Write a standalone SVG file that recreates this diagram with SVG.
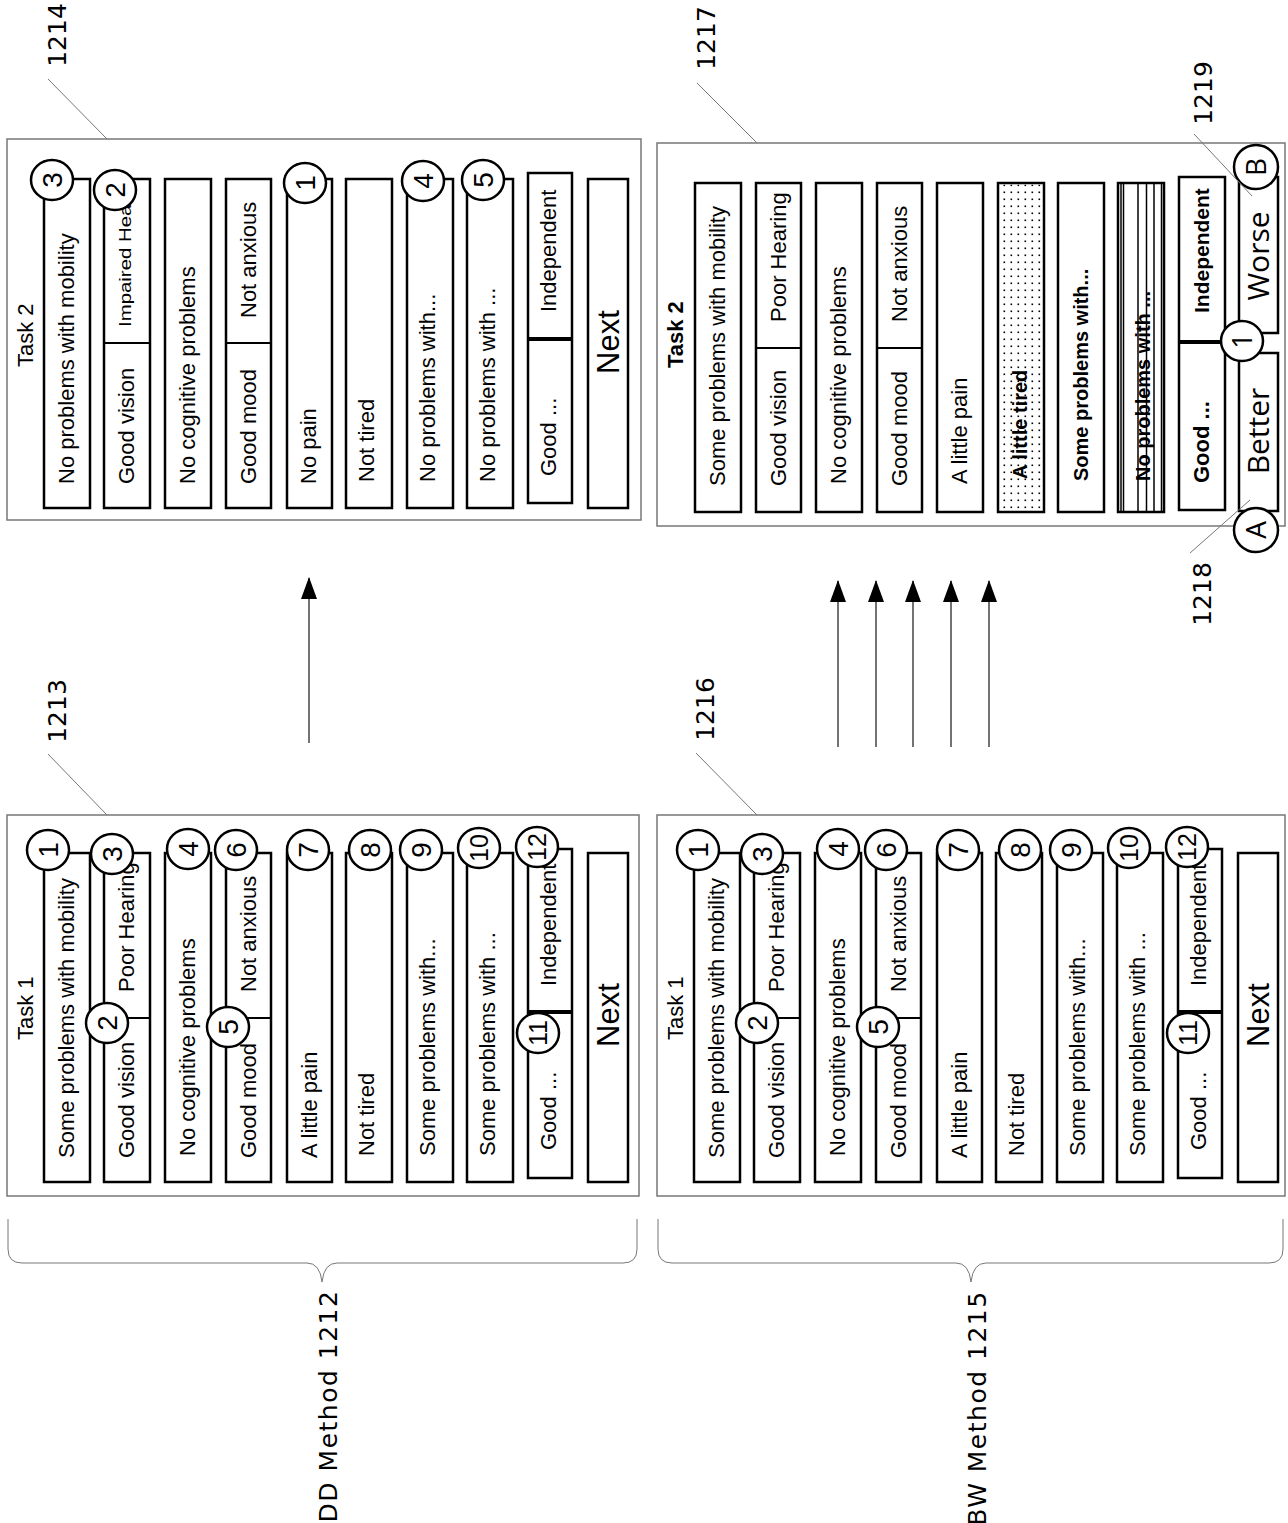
<svg xmlns="http://www.w3.org/2000/svg" width="1288" height="1523" viewBox="0 0 1288 1523">
<style>
.panel{fill:#fff;stroke:#777;stroke-width:1.5}
.bar{fill:#fff;stroke:#000;stroke-width:2.5}
.dv{stroke:#000;stroke-width:2}
.dvt{stroke:#000;stroke-width:4}
.c{fill:#fff;stroke:#000;stroke-width:2.5}
.t{font-family:"Liberation Sans",Arial,sans-serif;font-size:22px;fill:#000}
.b{font-weight:bold;font-size:20px}
.nx{font-family:"Liberation Sans",Arial,sans-serif;font-size:31px;text-anchor:middle}
.n{font-family:"Liberation Sans",Arial,sans-serif;font-size:28px;text-anchor:middle}
.n2{font-size:25px}
.o{font-family:"Open Sans","DejaVu Sans",sans-serif;text-anchor:middle}
.lbl{font-family:"DejaVu Sans",sans-serif;font-size:25px;text-anchor:middle;fill:#000}
.lead{stroke:#777;stroke-width:1;fill:none}
.arr{stroke:#444;stroke-width:1.5;fill:none;marker-end:url(#ah)}
.stripe{stroke:#000;stroke-width:1.5}
</style>
<defs>
<marker id="ah" markerUnits="userSpaceOnUse" markerWidth="22" markerHeight="16" refX="21" refY="8" orient="auto">
<path d="M0,0 L22,8 L0,16 z" fill="#000"/>
</marker>
<pattern id="dots" width="7" height="7" patternUnits="userSpaceOnUse">
<rect x="2.5" y="2.5" width="1.6" height="1.6" fill="#000"/>
</pattern>
</defs>
<rect width="1288" height="1523" fill="#fff"/>

<!-- DD Task 1 -->
<g id="dd-task1">
<rect class="panel" x="7" y="815" width="632" height="381"/>
<g id="dd-task1-content">
<text class="t" transform="translate(33,1040) rotate(-90)">Task 1</text>
<rect class="bar" x="44" y="853" width="46" height="329"/>
<rect class="bar" x="104" y="853" width="46" height="329"/>
<line class="dv" x1="104" y1="1018" x2="150" y2="1018"/>
<rect class="bar" x="165" y="853" width="46" height="329"/>
<rect class="bar" x="226" y="853" width="45" height="329"/>
<line class="dv" x1="226" y1="1018" x2="271" y2="1018"/>
<rect class="bar" x="287" y="853" width="45" height="329"/>
<rect class="bar" x="346" y="853" width="46" height="329"/>
<rect class="bar" x="407" y="853" width="46" height="329"/>
<rect class="bar" x="467" y="853" width="46" height="329"/>
<rect class="bar" x="528" y="849" width="44" height="329"/>
<line class="dvt" x1="528" y1="1012" x2="572" y2="1012"/>
<rect class="bar" x="588" y="853" width="40" height="329"/>
<text class="t" transform="translate(74,1158) rotate(-90)">Some problems with mobility</text>
<text class="t" transform="translate(134,1158) rotate(-90)">Good vision</text>
<text class="t" transform="translate(134,992) rotate(-90)">Poor Hearing</text>
<text class="t" transform="translate(195,1156) rotate(-90)">No cognitive problems</text>
<text class="t" transform="translate(256,1158) rotate(-90)">Good mood</text>
<text class="t" transform="translate(256,992) rotate(-90)">Not anxious</text>
<text class="t" transform="translate(317,1158) rotate(-90)">A little pain</text>
<text class="t" transform="translate(374,1156) rotate(-90)">Not tired</text>
<text class="t" transform="translate(435,1156) rotate(-90)">Some problems with...</text>
<text class="t" transform="translate(495,1156) rotate(-90)">Some problems with ...</text>
<text class="t" transform="translate(556,1150) rotate(-90)">Good ...</text>
<text class="t" transform="translate(556,986) rotate(-90)">Independent</text>
<text class="nx" transform="translate(619,1015) rotate(-90)">Next</text>
<ellipse class="c" cx="48" cy="850" rx="21" ry="20"/><text class="n" transform="translate(58,850) rotate(-90)">1</text>
<ellipse class="c" cx="112" cy="854" rx="21" ry="20"/><text class="n" transform="translate(122,854) rotate(-90)">3</text>
<ellipse class="c" cx="107" cy="1023" rx="21" ry="20"/><text class="n" transform="translate(117,1023) rotate(-90)">2</text>
<ellipse class="c" cx="188" cy="849" rx="21" ry="20"/><text class="n" transform="translate(198,849) rotate(-90)">4</text>
<ellipse class="c" cx="236" cy="850" rx="21" ry="20"/><text class="n" transform="translate(246,850) rotate(-90)">6</text>
<ellipse class="c" cx="228" cy="1027" rx="21" ry="20"/><text class="n" transform="translate(238,1027) rotate(-90)">5</text>
<ellipse class="c" cx="308" cy="850" rx="21" ry="20"/><text class="n" transform="translate(318,850) rotate(-90)">7</text>
<ellipse class="c" cx="370" cy="850" rx="21" ry="20"/><text class="n" transform="translate(380,850) rotate(-90)">8</text>
<ellipse class="c" cx="421" cy="850" rx="21" ry="20"/><text class="n" transform="translate(431,850) rotate(-90)">9</text>
<ellipse class="c" cx="479" cy="848" rx="21" ry="20"/><text class="n n2" transform="translate(488,848) rotate(-90)">10</text>
<ellipse class="c" cx="537" cy="847" rx="21" ry="20"/><text class="n n2" transform="translate(546,847) rotate(-90)">12</text>
<ellipse class="c" cx="538" cy="1033" rx="21" ry="20"/><text class="n n2" transform="translate(547,1033) rotate(-90)">11</text>
</g>
</g>

<!-- BW Task 1 -->
<g id="bw-task1">
<rect class="panel" x="657" y="815" width="628" height="381"/>
<use href="#dd-task1-content" transform="translate(650,0)"/>
</g>

<!-- DD Task 2 -->
<g id="dd-task2">
<rect class="panel" x="7" y="139" width="634" height="381"/>
<text class="t" transform="translate(33,367) rotate(-90)">Task 2</text>
<rect class="bar" x="44" y="179" width="46" height="329"/>
<rect class="bar" x="104" y="179" width="46" height="329"/>
<line class="dv" x1="104" y1="343" x2="150" y2="343"/>
<rect class="bar" x="165" y="179" width="46" height="329"/>
<rect class="bar" x="226" y="179" width="45" height="329"/>
<line class="dv" x1="226" y1="343" x2="271" y2="343"/>
<rect class="bar" x="287" y="179" width="45" height="329"/>
<rect class="bar" x="346" y="179" width="46" height="329"/>
<rect class="bar" x="407" y="179" width="46" height="329"/>
<rect class="bar" x="467" y="179" width="46" height="329"/>
<rect class="bar" x="528" y="173" width="44" height="330"/>
<line class="dvt" x1="528" y1="339" x2="572" y2="339"/>
<rect class="bar" x="588" y="179" width="40" height="329"/>
<text class="t" transform="translate(74,484) rotate(-90)">No problems with mobility</text>
<text class="t" transform="translate(134,484) rotate(-90)">Good vision</text>
<text class="t" style="font-size:17px" transform="translate(131,327) rotate(-90) scale(1.2,1)">Impaired Hear</text>
<text class="t" transform="translate(195,484) rotate(-90)">No cognitive problems</text>
<text class="t" transform="translate(256,484) rotate(-90)">Good mood</text>
<text class="t" transform="translate(256,318) rotate(-90)">Not anxious</text>
<text class="t" transform="translate(316,484) rotate(-90)">No pain</text>
<text class="t" transform="translate(374,482) rotate(-90)">Not tired</text>
<text class="t" transform="translate(435,482) rotate(-90)">No problems with...</text>
<text class="t" transform="translate(495,482) rotate(-90)">No problems with ...</text>
<text class="t" transform="translate(556,476) rotate(-90)">Good ...</text>
<text class="t" transform="translate(556,312) rotate(-90)">Independent</text>
<text class="nx" transform="translate(619,342) rotate(-90)">Next</text>
<ellipse class="c" cx="52" cy="180" rx="21" ry="20"/><text class="n" transform="translate(62,180) rotate(-90)">3</text>
<ellipse class="c" cx="115" cy="190" rx="21" ry="20"/><text class="n" transform="translate(125,190) rotate(-90)">2</text>
<ellipse class="c" cx="305" cy="183" rx="21" ry="20"/><text class="n" transform="translate(315,183) rotate(-90)">1</text>
<ellipse class="c" cx="423" cy="181" rx="21" ry="20"/><text class="n" transform="translate(433,181) rotate(-90)">4</text>
<ellipse class="c" cx="483" cy="180" rx="21" ry="20"/><text class="n" transform="translate(493,180) rotate(-90)">5</text>
</g>

<!-- BW Task 2 -->
<g id="bw-task2">
<rect class="panel" x="657" y="143" width="628" height="383"/>
<text class="t" style="font-weight:bold" transform="translate(683,368) rotate(-90)">Task 2</text>
<rect class="bar" x="695" y="183" width="46" height="329"/>
<rect class="bar" x="756" y="183" width="45" height="329"/>
<line class="dv" x1="756" y1="348" x2="801" y2="348"/>
<rect class="bar" x="816" y="183" width="46" height="329"/>
<rect class="bar" x="877" y="183" width="45" height="329"/>
<line class="dv" x1="877" y1="348" x2="922" y2="348"/>
<rect class="bar" x="937" y="183" width="46" height="329"/>
<rect class="bar" x="998" y="183" width="46" height="329"/>
<rect class="bar" x="1058" y="183" width="46" height="329"/>
<rect class="bar" x="1118" y="183" width="46" height="329"/>
<rect class="bar" x="1179" y="177" width="46" height="333"/>
<line class="dvt" x1="1179" y1="342" x2="1225" y2="342"/>
<text class="t" transform="translate(725,486) rotate(-90)">Some problems with mobility</text>
<text class="t" transform="translate(786,486) rotate(-90)">Good vision</text>
<text class="t" transform="translate(786,322) rotate(-90)">Poor Hearing</text>
<text class="t" transform="translate(846,484) rotate(-90)">No cognitive problems</text>
<text class="t" transform="translate(907,486) rotate(-90)">Good mood</text>
<text class="t" transform="translate(907,322) rotate(-90)">Not anxious</text>
<text class="t" transform="translate(967,484) rotate(-90)">A little pain</text>
<text class="t b" transform="translate(1027,479) rotate(-90)">A little tired</text>
<rect x="999.5" y="184.5" width="43" height="326" fill="url(#dots)"/>
<text class="t b" transform="translate(1088,481) rotate(-90)">Some problems with...</text>
<text class="t b" transform="translate(1150,481) rotate(-90)">No problems with ...</text>
<line class="stripe" x1="1121" y1="183" x2="1121" y2="512"/>
<line class="stripe" x1="1123.5" y1="183" x2="1123.5" y2="512"/>
<line class="stripe" x1="1138" y1="183" x2="1138" y2="512"/>
<line class="stripe" x1="1146.5" y1="183" x2="1146.5" y2="512"/>
<line class="stripe" x1="1154" y1="183" x2="1154" y2="512"/>
<line class="stripe" x1="1161.5" y1="183" x2="1161.5" y2="512"/>
<text class="t" style="font-weight:bold" transform="translate(1209,483) rotate(-90)">Good ...</text>
<text class="t" style="font-weight:bold;font-size:21px" transform="translate(1209,313) rotate(-90)">Independent</text>
<rect class="bar" x="1239" y="353" width="39" height="158"/>
<rect class="bar" x="1239" y="177" width="39" height="156"/>
<text class="o" style="font-size:30px" transform="translate(1269,431) rotate(-90)">Better</text>
<text class="o" style="font-size:30px" transform="translate(1269,256) rotate(-90)">Worse</text>
<ellipse class="c" cx="1242" cy="341" rx="21" ry="20"/><text class="o" style="font-size:27px" transform="translate(1252,341) rotate(-90)">1</text>
<circle class="c" cx="1256" cy="167" r="22"/><text class="o" style="font-size:28px" transform="translate(1266,167) rotate(-90)">B</text>
<circle class="c" cx="1256" cy="530" r="22"/><text class="o" style="font-size:28px" transform="translate(1266,530) rotate(-90)">A</text>
</g>

<!-- connectors -->
<g id="connectors">
<line class="arr" x1="309" y1="743" x2="309" y2="578"/>
<line class="arr" x1="838" y1="747" x2="838" y2="581"/>
<line class="arr" x1="876" y1="747" x2="876" y2="581"/>
<line class="arr" x1="913" y1="747" x2="913" y2="581"/>
<line class="arr" x1="951" y1="747" x2="951" y2="581"/>
<line class="arr" x1="989" y1="747" x2="989" y2="581"/>
</g>

<!-- reference labels -->
<g id="labels">
<line class="lead" x1="48" y1="79" x2="107" y2="139"/>
<text class="lbl" transform="translate(66,35) rotate(-90)">1214</text>
<line class="lead" x1="697" y1="83" x2="757" y2="143"/>
<text class="lbl" transform="translate(715,38) rotate(-90)">1217</text>
<line class="lead" x1="48" y1="754" x2="107" y2="815"/>
<text class="lbl" transform="translate(66,711) rotate(-90)">1213</text>
<line class="lead" x1="696" y1="753" x2="757" y2="815"/>
<text class="lbl" transform="translate(714,709) rotate(-90)">1216</text>
<line class="lead" x1="1194" y1="134" x2="1252" y2="196"/>
<text class="lbl" transform="translate(1212,93) rotate(-90)">1219</text>
<line class="lead" x1="1190" y1="553" x2="1250" y2="500"/>
<text class="lbl" transform="translate(1211,594) rotate(-90)">1218</text>
</g>

<!-- braces -->
<g id="dd-method">
<path class="lead" d="M8,1219 V1249 Q8,1263 22,1263 H307 Q320,1263 322,1282 Q324,1263 337,1263 H623 Q637,1263 637,1249 V1219"/>
<text class="lbl" style="letter-spacing:1.5px" transform="translate(337,1406) rotate(-90)">DD Method 1212</text>
</g>
<g id="bw-method">
<path class="lead" d="M658,1219 V1249 Q658,1263 672,1263 H956 Q969,1263 971,1282 Q973,1263 986,1263 H1269 Q1283,1263 1283,1249 V1219"/>
<text class="lbl" style="letter-spacing:1.5px" transform="translate(986,1408) rotate(-90)">BW Method 1215</text>
</g>
</svg>
